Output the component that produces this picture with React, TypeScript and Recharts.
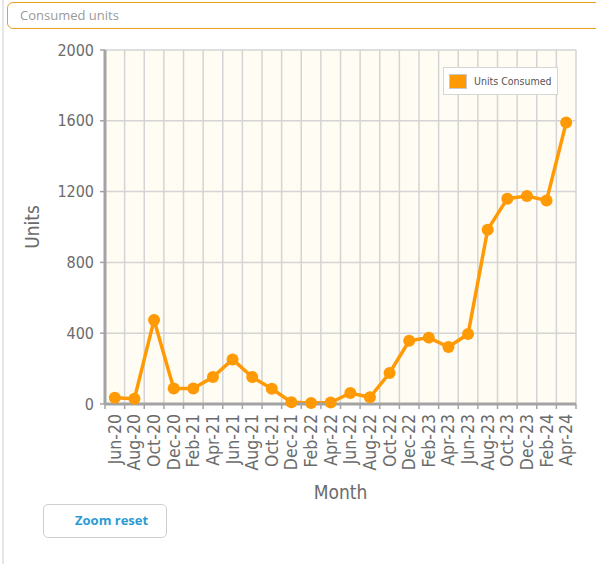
import React from "react";
import { LineChart, Line, XAxis, YAxis, CartesianGrid, Legend, Label } from "recharts";

// bimonthly readings, Jun-20 .. Apr-24
const months = [
  "Jun-20", "Aug-20", "Oct-20", "Dec-20", "Feb-21", "Apr-21",
  "Jun-21", "Aug-21", "Oct-21", "Dec-21", "Feb-22", "Apr-22",
  "Jun-22", "Aug-22", "Oct-22", "Dec-22", "Feb-23", "Apr-23",
  "Jun-23", "Aug-23", "Oct-23", "Dec-23", "Feb-24", "Apr-24",
];
const unitsConsumed = [
  35, 30, 475, 88, 88, 152,
  252, 152, 86, 10, 5, 8,
  62, 38, 175, 357, 375, 322,
  395, 985, 1160, 1175, 1150, 1590,
];
const yTicks = [0, 400, 800, 1200, 1600, 2000];

const orange = "#ff9a05";
const axisGrey = "#a3a3a3";
const textGrey = "#6b6b6b";

const monthIdx = months.map((_, i) => i);
const bandEdges = months.map((_, i) => i - 0.5).concat(months.length - 0.5);
const xDomain = [-0.5, months.length - 0.5];
const data = months.map((m, i) => ({ idx: i, month: m, units: unitsConsumed[i] }));

const MonthTick = (props: any) => {
  const { x, y, payload } = props;
  return (
    <text
      x={x}
      y={y}
      transform={`rotate(-90 ${x} ${y})`}
      textAnchor="end"
      dominantBaseline="central"
      fontFamily="'DejaVu Sans Condensed', 'DejaVu Sans', sans-serif"
      fontSize={17.5}
      fill={textGrey}
    >
      {months[payload.value]}
    </text>
  );
};

const LegendBox = () => (
  <div
    style={{
      display: "flex",
      alignItems: "center",
      height: 28,
      background: "#fff",
      border: "1px solid #d6d6d6",
      padding: "0 5px",
      fontFamily: "'DejaVu Sans Condensed', 'DejaVu Sans', sans-serif",
      fontSize: 10.5,
      color: "#555",
      boxSizing: "border-box",
      whiteSpace: "nowrap",
    }}
  >
    <span
      style={{
        width: 18,
        height: 15,
        background: orange,
        border: "1px solid #c9c9c9",
        boxSizing: "border-box",
        marginRight: 7,
        flex: "none",
      }}
    />
    Units Consumed
  </div>
);

export default function App() {
  return (
    <div style={{ position: "absolute", left: 0, top: 0, width: 596, height: 564, background: "#fff", overflow: "hidden" }}>
      <div style={{ position: "absolute", left: 2, top: 0, width: 2, height: 564, background: "#e6e6e6" }} />
      <div
        style={{
          position: "absolute",
          left: 7,
          top: 2,
          width: 620,
          height: 27,
          border: "1.5px solid #f0a020",
          borderRadius: 6,
          boxSizing: "border-box",
          paddingLeft: 12,
          lineHeight: "24px",
          fontFamily: "'Open Sans', sans-serif",
          fontSize: 13,
          color: "#9a9a9a",
        }}
      >
        Consumed units
      </div>

      <div style={{ position: "absolute", left: 0, top: 0 }}>
        <LineChart width={596} height={564} data={data} margin={{ top: 50, right: 20, bottom: 59, left: 32 }}>
          <CartesianGrid
            fill="#fffcf3"
            fillOpacity={1}
            stroke="#d4d4d4"
            strokeWidth={1.5}
          />
          <XAxis
            type="number"
            dataKey="idx"
            domain={xDomain}
            ticks={bandEdges}
            allowDataOverflow
            interval={0}
            height={1}
            tickFormatter={() => ""}
            tickSize={5}
            tickLine={{ stroke: axisGrey, strokeWidth: 1.5 }}
            axisLine={{ stroke: axisGrey, strokeWidth: 3 }}
          />
          <XAxis
            xAxisId="labels"
            type="number"
            dataKey="idx"
            domain={xDomain}
            ticks={monthIdx}
            allowDataOverflow
            interval={0}
            height={100}
            tickSize={0}
            tickMargin={9}
            tickLine={false}
            axisLine={false}
            tick={<MonthTick />}
          >
            <Label
              value="Month"
              position="insideBottom"
              offset={6}
              fontFamily="'DejaVu Sans Condensed', 'DejaVu Sans', sans-serif"
              fontSize={19}
              fill={textGrey}
            />
          </XAxis>
          <YAxis
            domain={[0, 2000]}
            ticks={yTicks}
            width={73}
            tickSize={5}
            tickMargin={6}
            tick={{ fontFamily: "'DejaVu Sans Condensed', 'DejaVu Sans', sans-serif", fontSize: 16, fill: textGrey }}
            tickLine={{ stroke: axisGrey, strokeWidth: 1.5 }}
            axisLine={{ stroke: axisGrey, strokeWidth: 3 }}
          >
            <Label
              content={(p: any) => {
                const vb = p.viewBox;
                const cx = vb.x;
                const cy = vb.y + vb.height / 2;
                return (
                  <text
                    x={cx}
                    y={cy}
                    transform={`rotate(-90 ${cx} ${cy})`}
                    textAnchor="middle"
                    dominantBaseline="central"
                    fontFamily="'DejaVu Sans Condensed', 'DejaVu Sans', sans-serif"
                    fontSize={19}
                    fill={textGrey}
                  >
                    Units
                  </text>
                );
              }}
            />
          </YAxis>
          <YAxis
            yAxisId="frame"
            orientation="right"
            width={0}
            tick={false}
            tickLine={false}
            axisLine={{ stroke: axisGrey, strokeWidth: 4 }}
          />
          <Legend
            layout="horizontal"
            verticalAlign="middle"
            align="center"
            wrapperStyle={{ top: 67, left: 443, width: 115, height: 28 }}
            content={<LegendBox />}
          />
          <Line
            name="Units Consumed"
            dataKey="units"
            stroke={orange}
            strokeWidth={3.5}
            dot={{ r: 6, fill: orange, stroke: orange, strokeWidth: 0 }}
            activeDot={false}
            isAnimationActive={false}
          />
        </LineChart>
      </div>

      <div
        style={{
          position: "absolute",
          left: 43,
          top: 504,
          width: 124,
          height: 34,
          border: "1px solid #cfcfcf",
          borderRadius: 5,
          boxSizing: "border-box",
          paddingLeft: 31,
          lineHeight: "31px",
          fontFamily: "'Open Sans', sans-serif",
          fontWeight: 700,
          fontSize: 13,
          color: "#2c9bd3",
        }}
      >
        Zoom reset
      </div>
    </div>
  );
}
